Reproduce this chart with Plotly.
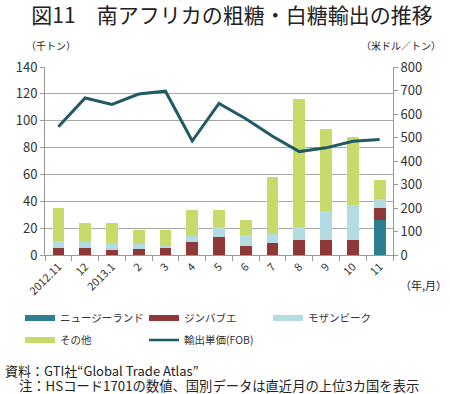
import plotly.graph_objects as go

months = ["2012.11", "12", "2013.1", "2", "3", "4", "5", "6", "7", "8", "9", "10", "11"]
new_zealand = [0, 0, 0, 0, 0, 0, 0, 0, 0, 0, 0, 0, 26]
zimbabwe = [5.5, 5, 3.5, 4.75, 5.5, 10, 13.5, 7, 9, 11, 11, 11, 9]
mozambique = [5, 4.75, 5.5, 3.75, 1.5, 4, 7.5, 7.6, 6.4, 9.8, 21.7, 26, 7]
others = [24.25, 13.75, 15, 10, 11.5, 19.5, 12.5, 11.4, 42.4, 95.1, 60.8, 50.8, 13.5]
price_fob = [546, 668, 641, 685, 697, 485, 645, 580, 505, 440, 456, 484, 491]

C_NZ = "#2E7F94"
C_ZIM = "#8E3838"
C_MOZ = "#B3DBE4"
C_OTH = "#C8DB6A"
C_LINE = "#1F5A66"

FONT = "Noto Sans CJK JP"
W, H = 450, 394
ML, MR, MT, MB = 45, 57, 67, 139
PW, PH = W - ML - MR, H - MT - MB


def px_x(px):
    return (px - ML) / PW


def px_y(py):
    return (H - MB - py) / PH


fig = go.Figure()
for name, vals, col in [("ニュージーランド", new_zealand, C_NZ),
                        ("ジンバブエ", zimbabwe, C_ZIM),
                        ("モザンビーク", mozambique, C_MOZ),
                        ("その他", others, C_OTH)]:
    fig.add_trace(go.Bar(x=months, y=vals, name=name, marker=dict(color=col, line=dict(width=0)),
                         showlegend=False))

fig.add_trace(go.Scatter(x=months, y=price_fob, name="輸出単価(FOB)", mode="lines",
                         line=dict(color=C_LINE, width=3), yaxis="y2", showlegend=False))

# legend entries
for name, col, lg in [("ニュージーランド", C_NZ, "legend"), ("ジンバブエ", C_ZIM, "legend"),
                      ("モザンビーク", C_MOZ, "legend"), ("その他", C_OTH, "legend2")]:
    fig.add_trace(go.Scatter(x=[None], y=[None], mode="lines", name=name,
                             line=dict(color=col, width=6), legend=lg))
fig.add_trace(go.Scatter(x=[None], y=[None], mode="lines", name="輸出単価(FOB)",
                         line=dict(color=C_LINE, width=2.5), legend="legend2", yaxis="y2"))

legend_common = dict(orientation="h", xanchor="left", yanchor="middle",
                     font=dict(family=FONT, size=10.5, color="#333"),
                     entrywidth=79, entrywidthmode="pixels", itemwidth=30,
                     bgcolor="rgba(0,0,0,0)", traceorder="normal")

fig.update_layout(
    width=W, height=H,
    margin=dict(l=ML, r=MR, t=MT, b=MB, autoexpand=False),
    paper_bgcolor="white", plot_bgcolor="white",
    barmode="stack", bargap=0.56,
    font=dict(family=FONT, color="#333"),
    title=dict(text="図11　南アフリカの粗糖・白糖輸出の推移", x=232 / W, xref="container", xanchor="center",
               y=1 - 16 / H, yanchor="middle", yref="container",
               font=dict(family=FONT, size=21, color="#222")),
    xaxis=dict(type="category", tickangle=-45, tickson="boundaries", ticks="outside",
               ticklen=5, tickcolor="#999", showline=True, linecolor="#999",
               tickfont=dict(family=FONT, size=11, color="#333"), showgrid=False,
               automargin=False),
    yaxis=dict(range=[0, 140], dtick=20, showgrid=True, gridcolor="#A8A8A8", gridwidth=1,
               showline=True, linecolor="#999", ticks="outside", ticklen=4, tickcolor="#999",
               tickfont=dict(family=FONT, size=13, color="#333"), zeroline=False,
               automargin=False),
    yaxis2=dict(range=[0, 800], dtick=100, overlaying="y", side="right", showgrid=False,
                showline=True, linecolor="#999", ticks="outside", ticklen=4, tickcolor="#999",
                tickfont=dict(family=FONT, size=13, color="#333"), zeroline=False,
                automargin=False),
    legend=dict(x=px_x(20), y=px_y(318), **legend_common),
    legend2=dict(x=px_x(20), y=px_y(340), **legend_common),
)

annos = [
    dict(text="（千トン）", x=px_x(24), y=px_y(45), xanchor="left", size=10),
    dict(text="（米ドル／トン）", x=px_x(443), y=px_y(45), xanchor="right", size=10),
    dict(text="（年,月）", x=px_x(449), y=px_y(285), xanchor="right", size=11),
    dict(text="資料：GTI社“Global Trade Atlas”", x=px_x(3), y=px_y(370), xanchor="left", size=13),
    dict(text="注：HSコード1701の数値、国別データは直近月の上位3カ国を表示", x=px_x(17), y=px_y(385.5),
         xanchor="left", size=13.3),
]
for a in annos:
    fig.add_annotation(text=a["text"], x=a["x"], y=a["y"], xref="paper", yref="paper",
                       xanchor=a["xanchor"], yanchor="middle", showarrow=False,
                       font=dict(family=FONT, size=a["size"], color="#222"))

fig.write_html("out.html", config={"displayModeBar": False},
               post_script="document.body.style.margin='0';")
